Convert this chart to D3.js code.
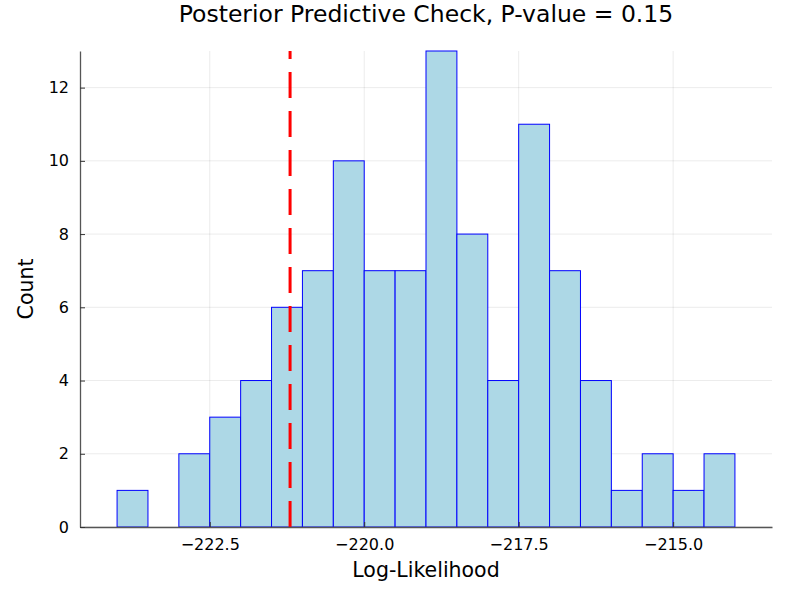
<!DOCTYPE html>
<html><head><meta charset="utf-8">
<script src="https://cdn.jsdelivr.net/npm/d3@7"></script>
<style>body{margin:0;background:#fff}svg{display:block}text{font-family:"DejaVu Sans",sans-serif}</style>
</head><body>
<script>
const binStart = -224, binWidth = 0.5;
const counts = [1,0,2,3,4,6,7,10,7,7,13,8,4,11,7,4,1,2,1,2];
const observed = -221.2;
const xTicks = [-222.5, -220.0, -217.5, -215.0];
const yTicks = [0,2,4,6,8,10,12];
const title = "Posterior Predictive Check, P-value = 0.15";

const W=800,H=600;
const svg=d3.select("body").append("svg").attr("width",W).attr("height",H);
const x=d3.scaleLinear().domain([-224.6,-213.4]).range([80,772]);
const y=d3.scaleLinear().domain([0,13]).range([527,51]);

// grid
svg.append("g").selectAll("line").data(xTicks).join("line")
 .attr("x1",d=>x(d)).attr("x2",d=>x(d)).attr("y1",51).attr("y2",527)
 .attr("stroke","#000").attr("stroke-opacity",0.08).attr("stroke-width",1);
svg.append("g").selectAll("line").data(yTicks).join("line")
 .attr("x1",80).attr("x2",772).attr("y1",d=>y(d)).attr("y2",d=>y(d))
 .attr("stroke","#000").attr("stroke-opacity",0.08).attr("stroke-width",1);

// bars
const bins=counts.map((c,i)=>({x0:binStart+i*binWidth,x1:binStart+(i+1)*binWidth,c}));
svg.append("g").selectAll("rect").data(bins).join("rect")
 .attr("x",d=>x(d.x0)).attr("width",d=>x(d.x1)-x(d.x0))
 .attr("y",d=>y(d.c)).attr("height",d=>y(0)-y(d.c))
 .attr("fill","#ADD8E6").attr("stroke","#0000FF").attr("stroke-width",1);

// vline
svg.append("line").attr("x1",x(observed)).attr("x2",x(observed))
 .attr("y1",y(0)).attr("y2",y(13))
 .attr("stroke","#FF0000").attr("stroke-width",3).attr("stroke-dasharray","26,13");

// axes
const xa=svg.append("g").attr("transform","translate(0,527)")
 .call(d3.axisBottom(x).tickValues(xTicks).tickFormat(d=>d3.format(".1f")(d).replace("-","\u2212")).tickSizeInner(-5).tickSizeOuter(0).tickPadding(9));
const ya=svg.append("g").attr("transform","translate(80,0)")
 .call(d3.axisLeft(y).tickValues(yTicks).tickFormat(d3.format("d")).tickSizeInner(-5).tickSizeOuter(0).tickPadding(11));
[xa,ya].forEach(a=>{
  a.attr("font-size",null).attr("font-family",null);
  a.select(".domain").attr("stroke","#555").attr("stroke-width",1.3);
  a.selectAll(".tick line").attr("stroke","#333");
  a.selectAll(".tick text").style("font-size","16px").attr("fill","#000").style("font-family","DejaVu Sans");
});
xa.selectAll(".tick text").attr("dy","0.85em");

svg.append("text").attr("x",426).attr("y",22).attr("text-anchor","middle")
 .style("font-size","23.5px").text(title);
svg.append("text").attr("x",426).attr("y",577).attr("text-anchor","middle")
 .style("font-size","20.5px").text("Log-Likelihood");
svg.append("text").attr("transform","translate(33,289) rotate(-90)").attr("text-anchor","middle")
 .style("font-size","20.5px").text("Count");
</script>
</body></html>
